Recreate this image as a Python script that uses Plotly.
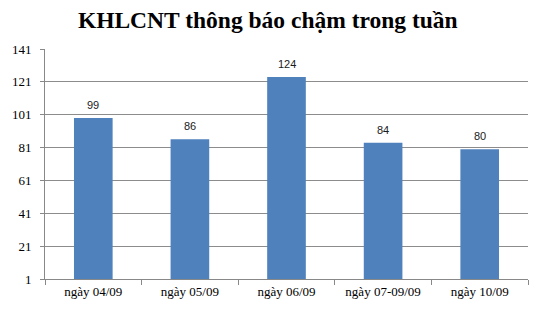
import plotly.graph_objects as go

categories = ["ngày 04/09", "ngày 05/09", "ngày 06/09", "ngày 07-09/09", "ngày 10/09"]
values = [99, 86, 124, 84, 80]
y_ticks = [1, 21, 41, 61, 81, 101, 121, 141]
title = "KHLCNT thông báo chậm trong tuần"

serif = "Liberation Serif, Times New Roman, serif"
sans = "Liberation Sans, Arial, sans-serif"

fig = go.Figure(go.Bar(
    x=categories, y=values,
    marker=dict(color="#4F81BD", line=dict(width=0)),
    hoverinfo="x+y",
))

for c, v in zip(categories, values):
    fig.add_annotation(x=c, y=v, text=str(v), showarrow=False,
                       yanchor="bottom", yshift=5,
                       font=dict(family=sans, size=11, color="#1a1a1a"))

fig.update_layout(
    width=541, height=311,
    margin=dict(l=34, r=13, t=49, b=29),
    paper_bgcolor="white", plot_bgcolor="white",
    bargap=0.6,
    showlegend=False,
    title=dict(text="<b>" + title + "</b>", x=0.495, xref="container", xanchor="center",
               y=0.938, yref="container", yanchor="middle", pad=dict(t=0, b=0),
               font=dict(family=serif, size=23.5, color="black")),
    xaxis=dict(
        showline=True, linecolor="#888", linewidth=1,
        ticks="outside", tickson="boundaries", ticklen=5, tickcolor="#888",
        tickfont=dict(family=serif, size=13, color="black"),
        showgrid=False,
    ),
    yaxis=dict(
        range=[1, 141], tickvals=y_ticks, ticktext=[str(t) for t in y_ticks],
        showline=True, linecolor="#888", linewidth=1,
        ticks="outside", ticklen=4, tickcolor="#888",
        ticklabelstandoff=6,
        showgrid=True, gridcolor="#8c8c8c", gridwidth=1,
        tickfont=dict(family=serif, size=13, color="black"),
        zeroline=False,
    ),
)

fig.write_html("out.html")
